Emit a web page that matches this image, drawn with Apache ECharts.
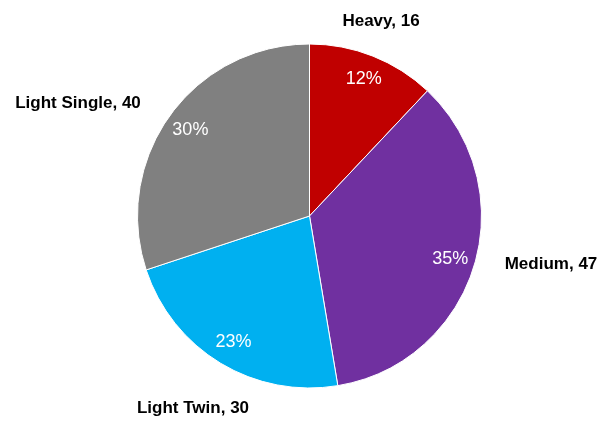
<!DOCTYPE html>
<html>
<head>
<meta charset="utf-8">
<script src="https://cdn.jsdelivr.net/npm/echarts@6/dist/echarts.min.js"></script>
<style>
  html, body { margin: 0; padding: 0; background: #fff; }
  #chart { width: 602px; height: 424px; }
</style>
</head>
<body>
<div id="chart"></div>
<script>
// vehicle classes and counts
const categories = ['Heavy', 'Medium', 'Light Twin', 'Light Single'];
const counts = [16, 47, 30, 40];
const colors = ['#c00000', '#7030a0', '#00b0f0', '#808080'];

// where the outer "name, value" labels sit (pixels)
const labelPos = [[381, 21], [551, 264], [193, 408], [78, 103]];

const chart = echarts.init(document.getElementById('chart'), null, { renderer: 'canvas' });

const pieData = categories.map((name, i) => ({
  name: name,
  value: counts[i],
  itemStyle: { color: colors[i] }
}));

const center = [309.5, 216];

chart.setOption({
  animation: false,
  textStyle: { fontFamily: 'Liberation Sans, Arial, sans-serif' },
  series: [
    {
      type: 'pie',
      center: center,
      radius: 172,
      startAngle: 90,
      clockwise: true,
      silent: true,
      data: pieData,
      itemStyle: { borderColor: '#fff', borderWidth: 1 },
      label: {
        show: true,
        position: 'outside',
        formatter: '{b}, {c}',
        color: '#000',
        fontSize: 17,
        fontWeight: 'bold',
        overflow: 'none'
      },
      labelLine: { show: false },
      labelLayout: function (p) {
        const pos = labelPos[p.dataIndex];
        return { x: pos[0], y: pos[1], align: 'center', verticalAlign: 'middle' };
      }
    },
    {
      // transparent ring only used to place the percentage labels
      type: 'pie',
      center: center,
      radius: [116, 172],
      startAngle: 90,
      clockwise: true,
      silent: true,
      data: categories.map((name, i) => ({ name: name, value: counts[i] })),
      itemStyle: { color: 'rgba(0,0,0,0)' },
      label: {
        show: true,
        position: 'inside',
        formatter: p => Math.round(p.percent) + '%',
        color: '#fff',
        fontSize: 18
      },
      labelLine: { show: false }
    }
  ]
});
</script>
</body>
</html>
